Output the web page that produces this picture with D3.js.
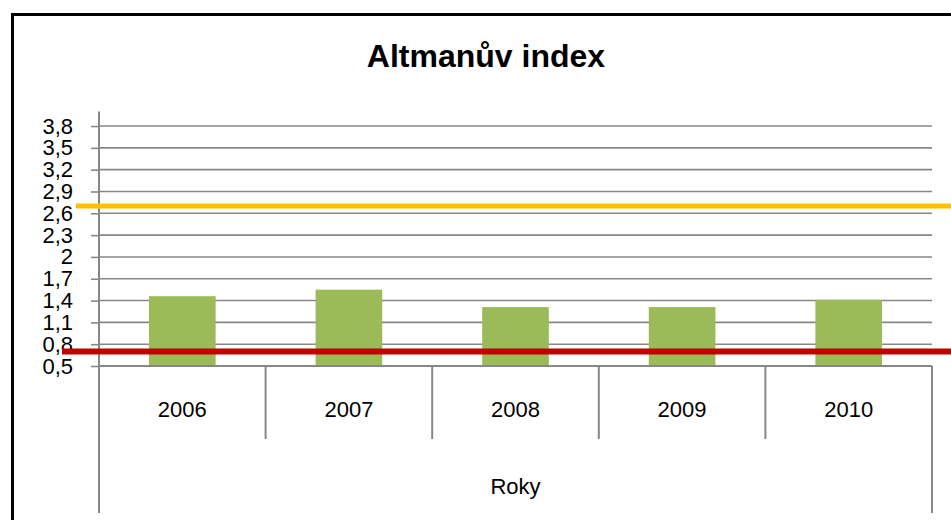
<!DOCTYPE html>
<html>
<head>
<meta charset="utf-8">
<script src="https://cdn.jsdelivr.net/npm/d3@7"></script>
<style>
  html, body { margin: 0; background: #fff; overflow: hidden; }
  svg { display: block; }
  text { font-family: "Liberation Sans", Arial, sans-serif; fill: #000; }
</style>
</head>
<body>
<div id="chart"></div>
<script>
// Data
var years       = [ '2006', '2007', '2008', '2009', '2010' ];
var altman      = [ 1.46, 1.55, 1.31, 1.31, 1.41 ];
var y_ticks     = [ 0.5, 0.8, 1.1, 1.4, 1.7, 2, 2.3, 2.6, 2.9, 3.2, 3.5, 3.8 ];
var upper_limit = 2.7;   // yellow line
var lower_limit = 0.7;   // red line

var chart_width  = 951;
var chart_height = 520;

var left   = 99;
var right  = 932;
var bottom = 366;

// scales
var x = d3.scaleBand()
    .domain(years)
    .range([left, right])
    .paddingInner(0.6)
    .paddingOuter(0.3);

var y = d3.scaleLinear()
    .domain([0.5, 4.0])
    .range([bottom, 111.5]);

var svg = d3.select('#chart')
    .append('svg')
    .attr('width', chart_width)
    .attr('height', chart_height);

// outer border (runs off the picture on right and bottom)
svg.append('path')
    .attr('d', 'M12.5,' + chart_height + 'V14.5H' + chart_width)
    .attr('fill', 'none')
    .attr('stroke', '#000')
    .attr('stroke-width', 3);

// title
svg.append('text')
    .attr('x', 486).attr('y', 67)
    .attr('text-anchor', 'middle')
    .style('font-size', '32px')
    .style('font-weight', 'bold')
    .text('Altmanův index');

// gridlines
svg.selectAll('line.grid')
    .data(y_ticks.slice(1))
    .enter()
    .append('line')
    .attr('class', 'grid')
    .attr('x1', left).attr('x2', right)
    .attr('y1', function(d){ return y(d); })
    .attr('y2', function(d){ return y(d); })
    .attr('stroke', '#878787')
    .attr('stroke-width', 1.6);

// y axis
var y_axis = d3.axisLeft(y)
    .tickValues(y_ticks)
    .tickSize(8)
    .tickPadding(18)
    .tickFormat(function(d){ return String(+d.toFixed(1)).replace('.', ','); });

var gy = svg.append('g')
    .attr('transform', 'translate(' + left + ',0)')
    .call(y_axis);
gy.select('.domain').remove();
gy.selectAll('.tick line').attr('stroke', '#878787').attr('stroke-width', 1.6);
gy.selectAll('.tick text')
    .style('font-size', '22px')
    .style('font-family', '"Liberation Sans", Arial, sans-serif')
    .attr('fill', '#000');

svg.append('line')
    .attr('x1', left).attr('x2', left)
    .attr('y1', y(4.0)).attr('y2', 513)
    .attr('stroke', '#878787').attr('stroke-width', 2);

// bars
svg.selectAll('rect.bar')
    .data(altman)
    .enter()
    .append('rect')
    .attr('class', 'bar')
    .attr('x', function(d, i){ return x(years[i]); })
    .attr('y', function(d){ return y(d); })
    .attr('width', x.bandwidth())
    .attr('height', function(d){ return bottom - y(d); })
    .attr('fill', '#9BBB59');

// category axis
svg.append('line')
    .attr('x1', left).attr('x2', right)
    .attr('y1', bottom).attr('y2', bottom)
    .attr('stroke', '#878787').attr('stroke-width', 2);

var step = x.step();
var bounds = years.map(function(d){ return x(d) - step * 0.3; }).concat([right]);
svg.selectAll('line.sep')
    .data(bounds)
    .enter()
    .append('line')
    .attr('class', 'sep')
    .attr('x1', function(d){ return d; })
    .attr('x2', function(d){ return d; })
    .attr('y1', bottom)
    .attr('y2', function(d, i){ return (i === 0 || i === bounds.length - 1) ? 513 : 439; })
    .attr('stroke', '#878787').attr('stroke-width', 2);

svg.selectAll('text.cat')
    .data(years)
    .enter()
    .append('text')
    .attr('class', 'cat')
    .attr('x', function(d){ return x(d) + x.bandwidth() / 2; })
    .attr('y', 417)
    .attr('text-anchor', 'middle')
    .style('font-size', '22px')
    .text(function(d){ return d; });

svg.append('text')
    .attr('x', (left + right) / 2).attr('y', 494)
    .attr('text-anchor', 'middle')
    .style('font-size', '22px')
    .text('Roky');

// limit lines
svg.append('line')
    .attr('x1', 76).attr('x2', chart_width)
    .attr('y1', y(upper_limit)).attr('y2', y(upper_limit))
    .attr('stroke', '#FFC000').attr('stroke-width', 5);

svg.append('line')
    .attr('x1', 62).attr('x2', chart_width)
    .attr('y1', y(lower_limit)).attr('y2', y(lower_limit))
    .attr('stroke', '#C00000').attr('stroke-width', 6);
</script>
</body>
</html>
